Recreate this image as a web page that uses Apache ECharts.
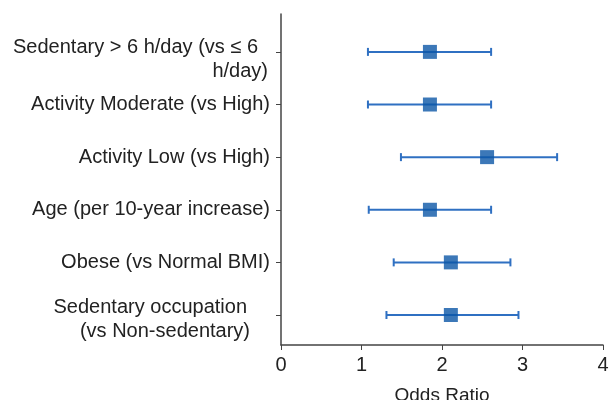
<!DOCTYPE html>
<html lang="en">
<head>
  <meta charset="UTF-8">
  <title>Odds Ratio forest plot</title>
  <script src="https://cdn.jsdelivr.net/npm/echarts@6/dist/echarts.min.js"></script>
</head>
<body style="margin:0">
  <div id="main" style="width: 613px;height:400px;"></div>

  <script type="text/javascript">
    // rows from top to bottom
    const categories = [
      'Sedentary > 6 h/day (vs ≤ 6 h/day)',
      'Activity Moderate (vs High)',
      'Activity Low (vs High)',
      'Age (per 10-year increase)',
      'Obese (vs Normal BMI)',
      'Sedentary occupation (vs Non-sedentary)'
    ];
    const rowPos = [6, 5, 4, 3, 2, 1];
    const oddsRatio = [1.85, 1.85, 2.56, 1.85, 2.11, 2.11];
    const ciLower = [1.08, 1.08, 1.49, 1.09, 1.40, 1.31];
    const ciUpper = [2.61, 2.61, 3.43, 2.61, 2.85, 2.95];
    const xTicks = [0, 1, 2, 3, 4];

    // label text as drawn (line breaks as in the picture)
    const labelText = {
      6: '{s6|}\n{a|Sedentary > 6 h/day (vs ≤ 6}\n{b|h/day)}',
      5: 'Activity Moderate (vs High)',
      4: 'Activity Low (vs High)',
      3: 'Age (per 10-year increase)',
      2: 'Obese (vs Normal BMI)',
      1: '{s1|}\n{c|Sedentary occupation}\n{d|(vs Non-sedentary)}'
    };

    const blue = '#2f70c2';
    const darkBlue = '#0b56a6';
    const font = 'Liberation Sans, Arial, sans-serif';
    const fs = 20;
    const txt = { fontSize: fs, fontFamily: font, color: '#222', lineHeight: 24, height: 24 };

    let myChart = echarts.init(document.getElementById('main'));

    let options = {
      animation: false,
      grid: { left: 281, right: 10, top: 14, bottom: 55, outerBoundsMode: 'none' },
      xAxis: {
        type: 'value',
        min: xTicks[0],
        max: xTicks[xTicks.length - 1],
        interval: 1,
        name: 'Odds Ratio',
        nameLocation: 'middle',
        nameGap: 41,
        nameTextStyle: { fontSize: 19, color: '#222', fontFamily: font },
        axisLine: { lineStyle: { color: '#444', width: 1.5 } },
        axisTick: { show: true, length: 5, lineStyle: { color: '#444' } },
        axisLabel: { fontSize: fs, color: '#222', margin: 10, fontFamily: font },
        splitLine: { show: false }
      },
      yAxis: {
        type: 'value',
        min: 0.43,
        max: 6.72,
        axisLine: { show: true, lineStyle: { color: '#444', width: 1.5 } },
        axisTick: { show: true, length: 5, customValues: rowPos, lineStyle: { color: '#444' } },
        splitLine: { show: false },
        axisLabel: {
          customValues: rowPos,
          fontSize: fs,
          color: '#222',
          margin: 11,
          lineHeight: 24,
          fontFamily: font,
          formatter: v => labelText[Math.round(v)] || '',
          rich: {
            s6: { fontSize: 2, lineHeight: 16, height: 16 },
            s1: { fontSize: 2, lineHeight: 9, height: 9 },
            a: Object.assign({ padding: [0, 12, 0, 0] }, txt),
            b: Object.assign({ padding: [0, 2, 0, 0] }, txt),
            c: Object.assign({ padding: [0, 23, 0, 0] }, txt),
            d: Object.assign({ padding: [0, 20, 0, 0] }, txt)
          }
        }
      },
      series: [
        {
          type: 'custom',
          name: 'CI',
          data: rowPos.map((p, i) => [ciLower[i], ciUpper[i], p]),
          renderItem: function (params, api) {
            const lo = api.coord([api.value(0), api.value(2)]);
            const hi = api.coord([api.value(1), api.value(2)]);
            const cap = 4;
            const style = { stroke: blue, lineWidth: 2 };
            return {
              type: 'group',
              children: [
                { type: 'line', shape: { x1: lo[0], y1: lo[1], x2: hi[0], y2: hi[1] }, style: style },
                { type: 'line', shape: { x1: lo[0], y1: lo[1] - cap, x2: lo[0], y2: lo[1] + cap }, style: style },
                { type: 'line', shape: { x1: hi[0], y1: hi[1] - cap, x2: hi[0], y2: hi[1] + cap }, style: style }
              ]
            };
          },
          z: 2
        },
        {
          type: 'scatter',
          name: 'OR',
          symbol: 'rect',
          symbolSize: 14,
          itemStyle: { color: darkBlue },
          data: rowPos.map((p, i) => [oddsRatio[i], p]),
          z: 3
        }
      ]
    };

    myChart.setOption(options);
  </script>
</body>
</html>
